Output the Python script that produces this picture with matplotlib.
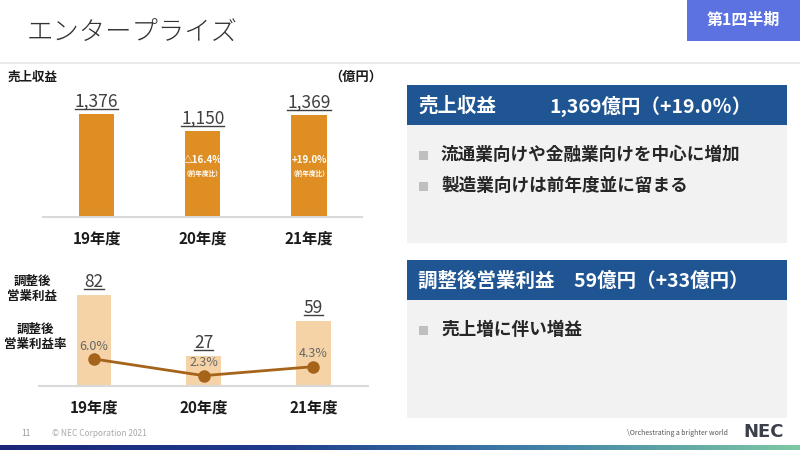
import matplotlib
matplotlib.use("Agg")
import matplotlib.pyplot as plt
import numpy as np
from matplotlib.patches import Rectangle
from matplotlib.lines import Line2D
from matplotlib.colors import LinearSegmentedColormap

plt.rcParams['font.family'] = ['Noto Sans CJK JP', 'DejaVu Sans']

# ---- data ----
years = ["19年度", "20年度", "21年度"]
revenue = [1376, 1150, 1369]
revenue_labels = ["1,376", "1,150", "1,369"]
revenue_yoy = [None, "△16.4%", "+19.0%"]
profit = [82, 27, 59]
profit_labels = ["82", "27", "59"]
margin = [6.0, 2.3, 4.3]
margin_labels = ["6.0%", "2.3%", "4.3%"]

W, H = 800, 450
fig = plt.figure(figsize=(8, 4.5), dpi=100)
fig.patch.set_facecolor("white")

def fx(px):
    return px / W

def fy(py):
    return 1 - py / H

def rect(x0, y0, x1, y1, color, z=0):
    fig.add_artist(Rectangle((fx(x0), fy(y1)), fx(x1) - fx(x0), fy(y0) - fy(y1),
                             transform=fig.transFigure, facecolor=color,
                             edgecolor="none", zorder=z))

# ---- header ----
fig.text(fx(27), fy(33), "エンタープライズ", fontsize=19, color="#333333",
         va="center", ha="left", fontweight="light")
rect(687, 0, 800, 41, "#5B72E0")
fig.text(fx(743), fy(20), "第1四半期", fontsize=11.5, color="white",
         fontweight="bold", ha="center", va="center")
fig.add_artist(Line2D([0, 1], [fy(63), fy(63)], transform=fig.transFigure,
                      color="#E6E6E6", lw=1.2))

# ---- top chart ----
fig.text(fx(8), fy(77), "売上収益", fontsize=9, fontweight="bold",
         color="#1a1a1a", ha="left", va="center")
fig.text(fx(382), fy(77), "（億円）", fontsize=9.5, fontweight="bold",
         color="#1a1a1a", ha="right", va="center")

ax1 = fig.add_axes([fx(43.4), fy(217), fx(318.75), fy(85) - fy(217)])
x = np.arange(len(years))
ax1.bar(x, revenue, width=0.33, color="#DF8E24", zorder=2)
ax1.set_xlim(-0.5, 2.5)
ax1.set_ylim(0, 132 * 13.36)
ax1.set_xticks(x, years)
ax1.tick_params(axis="x", length=0, pad=10, labelsize=11)
for lab in ax1.get_xticklabels():
    lab.set_fontweight("bold")
    lab.set_color("#1a1a1a")
ax1.set_yticks([])
for s in ["top", "left", "right"]:
    ax1.spines[s].set_visible(False)
ax1.spines["bottom"].set_color("#D9D9D9")
ax1.spines["bottom"].set_linewidth(1.5)
ax1.patch.set_alpha(0)

underline_items = []
for i, (v, lab) in enumerate(zip(revenue, revenue_labels)):
    t = ax1.annotate(lab, xy=(i, v), xytext=(0, 7), textcoords="offset pixels",
                     ha="center", va="baseline", fontsize=12.5, color="#404040")
    underline_items.append((t, ax1, i, v, 7))
for i, lab in enumerate(revenue_yoy):
    if lab is None:
        continue
    ax1.text(i, 761, lab, ha="center", va="center", fontsize=7,
             color="white", fontweight="bold")
    ax1.text(i, 588, "（前年度比）", ha="center", va="center", fontsize=4.8,
             color="white", fontweight="bold")

# ---- bottom chart ----
fig.text(fx(32), fy(289), "調整後\n営業利益", fontsize=9, fontweight="bold",
         color="#1a1a1a", ha="center", va="center", linespacing=1.15)
fig.text(fx(35), fy(337), "調整後\n営業利益率", fontsize=9, fontweight="bold",
         color="#1a1a1a", ha="center", va="center", linespacing=1.15)

ax2 = fig.add_axes([fx(39.2), fy(386), fx(329), fy(260) - fy(386)])
ax2.bar(x, profit, width=0.315, color="#F5D3A6", zorder=2)
ax2.set_xlim(-0.5, 2.5)
ax2.set_ylim(0, 126 * 0.905)
ax2.set_xticks(x, years)
ax2.tick_params(axis="x", length=0, pad=10, labelsize=11)
for lab in ax2.get_xticklabels():
    lab.set_fontweight("bold")
    lab.set_color("#1a1a1a")
ax2.set_yticks([])
for s in ["top", "left", "right"]:
    ax2.spines[s].set_visible(False)
ax2.spines["bottom"].set_color("#D9D9D9")
ax2.spines["bottom"].set_linewidth(1.5)
ax2.patch.set_alpha(0)
for i, (v, lab) in enumerate(zip(profit, profit_labels)):
    t = ax2.annotate(lab, xy=(i, v), xytext=(0, 8), textcoords="offset pixels",
                     ha="center", va="baseline", fontsize=12.5, color="#404040")
    underline_items.append((t, ax2, i, v, 8))

ax3 = ax2.twinx()
ax3.set_ylim(0, 126 / 4.5)
ax3.plot(x, margin, color="#A5641A", lw=2, marker="o", markersize=8, zorder=3)
ax3.set_yticks([])
for s in ["top", "left", "right", "bottom"]:
    ax3.spines[s].set_visible(False)
for i, (v, lab) in enumerate(zip(margin, margin_labels)):
    ax3.annotate(lab, xy=(i, v), xytext=(0, 13), textcoords="offset pixels",
                 ha="center", va="center", fontsize=9, color="#666666")

# ---- right panels ----
rect(407, 85, 787, 125, "#1F5592", z=1)
rect(407, 125, 787, 243, "#F2F2F2", z=1)
fig.text(fx(418), fy(106), "売上収益", fontsize=14, color="white",
         fontweight="bold", ha="left", va="center", zorder=2)
fig.text(fx(549), fy(106), "1,369億円（+19.0％）", fontsize=14, color="white",
         fontweight="bold", ha="left", va="center", zorder=2)
bullets1 = ["流通業向けや金融業向けを中心に増加", "製造業向けは前年度並に留まる"]
for k, b in enumerate(bullets1):
    yy = 155 + 31 * k
    rect(419, yy - 4, 428, yy + 5, "#BFBFBF", z=2)
    fig.text(fx(441), fy(yy), b, fontsize=12.7, color="#262626",
             fontweight="bold", ha="left", va="center", zorder=2)

rect(407, 260, 787, 300, "#1F5592", z=1)
rect(407, 300, 787, 418, "#F2F2F2", z=1)
fig.text(fx(418), fy(281), "調整後営業利益　59億円（+33億円）", fontsize=14,
         color="white", fontweight="bold", ha="left", va="center", zorder=2)
rect(419, 326, 428, 335, "#BFBFBF", z=2)
fig.text(fx(441), fy(330), "売上増に伴い増益", fontsize=12.7, color="#262626",
         fontweight="bold", ha="left", va="center", zorder=2)

# ---- footer ----
fig.text(fx(21), fy(433), "11", fontsize=6, color="#999999", ha="left", va="center")
fig.text(fx(52), fy(433), "© NEC Corporation 2021", fontsize=6, color="#AAAAAA",
         ha="left", va="center")
fig.text(fx(728), fy(433), "\\Orchestrating a brighter world", fontsize=5,
         color="#555555", ha="right", va="center")
fig.text(fx(784), fy(432), "NEC", fontsize=13, color="#3A3F4A", fontweight="bold",
         ha="right", va="center", family=["DejaVu Sans"])

gax = fig.add_axes([0, 0, 1, fy(445)])
cmap = LinearSegmentedColormap.from_list("g", ["#1B2678", "#1E3A8A", "#3F7FA8", "#7EC8A4"])
gax.imshow(np.linspace(0, 1, 256).reshape(1, -1), aspect="auto", cmap=cmap)
gax.axis("off")

# underline value labels (just below baseline)
fig.canvas.draw()
r = fig.canvas.get_renderer()
for t, ax, i, v, off in underline_items:
    bb = t.get_window_extent(renderer=r)
    base_y = ax.transData.transform((i, v))[1] + off - 2
    fig.add_artist(Line2D([bb.x0 / W, bb.x1 / W], [base_y / H, base_y / H],
                          transform=fig.transFigure, color="#404040", lw=1))

fig.savefig("out.png", dpi=100, facecolor="white")
